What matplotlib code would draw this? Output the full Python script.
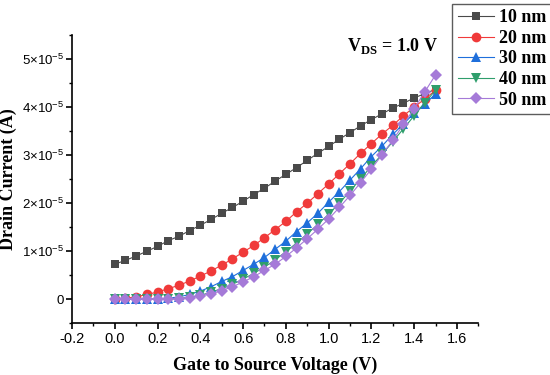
import numpy as np
import matplotlib
matplotlib.use('Agg')
import matplotlib.pyplot as plt
from matplotlib.ticker import FuncFormatter, MultipleLocator

vgs = np.arange(31) * 0.05

# drain current in units of 1e-5 A
id_10nm = [0.73, 0.81, 0.90, 1.00, 1.10, 1.22, 1.31, 1.43, 1.54, 1.66, 1.79,
           1.91, 2.04, 2.18, 2.31, 2.46, 2.60, 2.74, 2.89, 3.04, 3.18, 3.33,
           3.47, 3.61, 3.74, 3.86, 3.98, 4.08, 4.19, 4.28, 4.37]
id_20nm = [0.00, 0.02, 0.05, 0.10, 0.15, 0.22, 0.29, 0.38, 0.48, 0.59, 0.71,
           0.84, 0.98, 1.12, 1.28, 1.45, 1.62, 1.82, 2.00, 2.20, 2.40, 2.61,
           2.82, 3.04, 3.24, 3.44, 3.62, 3.82, 4.00, 4.17, 4.35]
id_30nm = [0.00, 0.00, 0.00, 0.00, 0.01, 0.02, 0.05, 0.10, 0.17, 0.26, 0.37,
           0.47, 0.60, 0.73, 0.87, 1.04, 1.21, 1.41, 1.59, 1.79, 2.02, 2.24,
           2.48, 2.72, 2.97, 3.19, 3.43, 3.65, 3.87, 4.07, 4.27]
id_40nm = [0.00, 0.00, 0.00, 0.00, 0.00, 0.01, 0.02, 0.04, 0.08, 0.15, 0.22,
           0.31, 0.42, 0.54, 0.67, 0.82, 0.99, 1.17, 1.36, 1.56, 1.77, 2.00,
           2.25, 2.51, 2.77, 3.02, 3.28, 3.55, 3.82, 4.09, 4.35]
id_50nm = [0.00, 0.00, 0.00, 0.00, 0.00, 0.00, 0.01, 0.03, 0.07, 0.11, 0.18,
           0.26, 0.36, 0.47, 0.60, 0.73, 0.89, 1.07, 1.26, 1.46, 1.67, 1.91,
           2.16, 2.43, 2.71, 3.01, 3.31, 3.64, 3.97, 4.32, 4.67]

labels = ['10 nm', '20 nm', '30 nm', '40 nm', '50 nm']
series = [id_10nm, id_20nm, id_30nm, id_40nm, id_50nm]
colors = ['#4a4a4a', '#f03a3a', '#1f6fdb', '#2f9e6c', '#a57ad8']
markers = ['s', 'o', '^', 'v', 'D']
msizes = [6, 7, 7, 7, 6]

plt.rcParams['font.family'] = 'Liberation Sans'
plt.rcParams['mathtext.fontset'] = 'custom'
plt.rcParams['mathtext.rm'] = 'Liberation Sans'
plt.rcParams['mathtext.bf'] = 'Liberation Serif:bold'
fig = plt.figure(figsize=(5.5, 3.75), dpi=100)
ax = fig.add_axes([0.1309, 0.1379, 0.7388, 0.7688])

for y, lab, c, m, ms in zip(series, labels, colors, markers, msizes):
    ax.plot(vgs, np.array(y) * 1e-5, '-', color=c, lw=0.8,
            marker=m, markersize=ms, markeredgewidth=0, label=lab)

ax.set_xlim(-0.2, 1.7)
ax.set_ylim(-0.5e-5, 5.5e-5)
ax.xaxis.set_major_locator(MultipleLocator(0.2))
ax.xaxis.set_minor_locator(MultipleLocator(0.1))
ax.yaxis.set_major_locator(MultipleLocator(1e-5))
ax.yaxis.set_minor_locator(MultipleLocator(0.5e-5))

def yfmt(v, pos):
    n = int(round(v / 1e-5))
    if n == 0:
        return '0'
    return r'%d$\times$10$^{-5}$' % n

ax.yaxis.set_major_formatter(FuncFormatter(yfmt))
ax.xaxis.set_major_formatter(FuncFormatter(lambda v, p: '%.1f' % v))

for s in ['top', 'right']:
    ax.spines[s].set_visible(False)
ax.spines['left'].set_linewidth(1.2)
ax.spines['bottom'].set_linewidth(1.2)
ax.tick_params(which='major', direction='out', length=4, width=1.2, labelsize=10.5, pad=2)
ax.tick_params(axis='y', which='major', labelsize=9.5)
ax.tick_params(which='minor', direction='out', length=2.5, width=1.0)

ax.set_xlabel('Gate to Source Voltage (V)', family='Liberation Serif',
              fontweight='bold', fontsize=13, labelpad=8)
ax.set_ylabel('Drain Current (A)', family='Liberation Serif',
              fontweight='bold', fontsize=13)
ax.yaxis.set_label_coords(-0.135, 0.5)

ax.text(1.51, 5.27e-5, r'V$_{\mathbf{DS}}$ = 1.0 V', family='Liberation Serif',
        fontweight='bold', fontsize=13, ha='right', va='center')

leg = ax.legend(loc='upper left', bbox_to_anchor=(0.936, 1.108),
                prop={'family': 'Liberation Serif', 'weight': 'bold', 'size': 13},
                frameon=True, fancybox=False, edgecolor='#333333',
                handlelength=2.0, borderpad=0.3, labelspacing=0.2,
                handletextpad=0.3, borderaxespad=0)
leg.get_frame().set_linewidth(1.0)

fig.savefig('out.png', dpi=100)
